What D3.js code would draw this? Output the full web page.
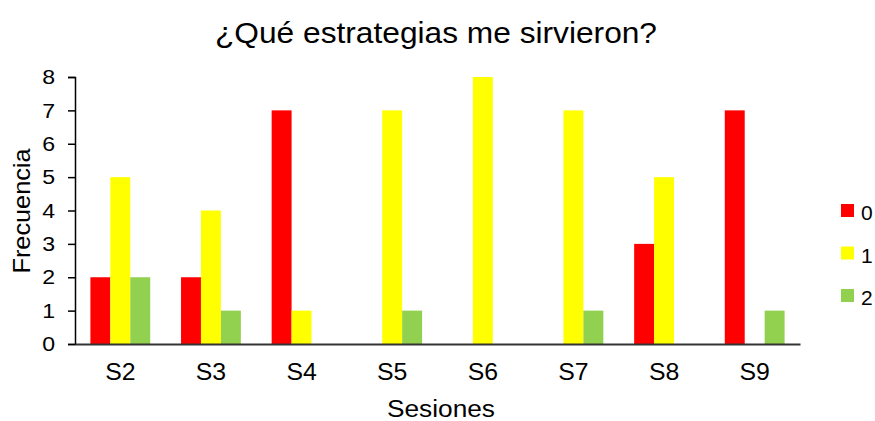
<!DOCTYPE html>
<html><head><meta charset="utf-8">
<script src="https://cdn.jsdelivr.net/npm/d3@7"></script>
<style>body{margin:0;background:#fff}text{font-family:"Liberation Sans",Arial,sans-serif;fill:#000}</style>
</head><body>
<svg id="c" width="875" height="421"></svg>
<script>
const categories = ["S2","S3","S4","S5","S6","S7","S8","S9"];
const seriesNames = ["0","1","2"];
const series0 = [2,2,7,0,0,0,3,7];
const series1 = [5,4,1,7,8,7,5,0];
const series2 = [2,1,0,1,0,1,0,1];
const yTicks = [0,1,2,3,4,5,6,7,8];
const colors = ["#FF0000","#FFFF00","#92D050"];
const allSeries = [series0, series1, series2];

const svg = d3.select("#c");
const m = {l:75, r:800, t:77, b:344};
const x = d3.scaleBand().domain(categories).range([m.l, m.r]).paddingInner(0.34).paddingOuter(0.17);
const xs = d3.scaleBand().domain(seriesNames).range([0, x.bandwidth()]);
const y = d3.scaleLinear().domain([0,8]).range([m.b, m.t]);

const g = svg.append("g");
categories.forEach((c,i)=>{
  allSeries.forEach((s,j)=>{
    if(s[i]>0) g.append("rect").attr("x", x(c)+xs(seriesNames[j])).attr("width", xs.bandwidth())
      .attr("y", y(s[i])).attr("height", y(0)-y(s[i])).attr("fill", colors[j]);
  });
});

// y axis
const ya = svg.append("g").attr("transform",`translate(${m.l},0)`)
  .call(d3.axisLeft(y).tickValues(yTicks).tickSize(7).tickPadding(11).tickFormat(d3.format("d")));
ya.select(".domain").attr("stroke","#000").attr("stroke-width",1.5);
ya.selectAll(".tick line").attr("stroke","#000").attr("stroke-width",1.5);
ya.selectAll("text").style("font-size","21px").attr("transform","scale(1.1,1)");

// x axis
const xa = svg.append("g").attr("transform",`translate(0,${m.b})`)
  .call(d3.axisBottom(x).tickSize(0).tickPadding(20));
xa.select(".domain").attr("stroke","#333").attr("stroke-width",2);
xa.selectAll("text").style("font-size","23px").attr("transform","scale(1.08,1)");

svg.append("text").attr("x",436).attr("y",43).attr("text-anchor","middle").style("font-size","29px")
  .attr("textLength",442).attr("lengthAdjust","spacingAndGlyphs").text("¿Qué estrategias me sirvieron?");
svg.append("text").attr("x",441).attr("y",417).attr("text-anchor","middle").style("font-size","23px")
  .attr("textLength",108).attr("lengthAdjust","spacingAndGlyphs").text("Sesiones");
svg.append("text").attr("transform","translate(30,211) rotate(-90)").attr("text-anchor","middle").style("font-size","24px")
  .attr("textLength",125).attr("lengthAdjust","spacingAndGlyphs").text("Frecuencia");

// legend
const lg = svg.append("g");
seriesNames.forEach((n,j)=>{
  const yy = 204 + j*42.5;
  lg.append("rect").attr("x",841).attr("y",yy).attr("width",13).attr("height",13).attr("fill",colors[j]);
  lg.append("text").attr("x",861).attr("y",yy+16).style("font-size","21px").text(n);
});
</script>
</body></html>
